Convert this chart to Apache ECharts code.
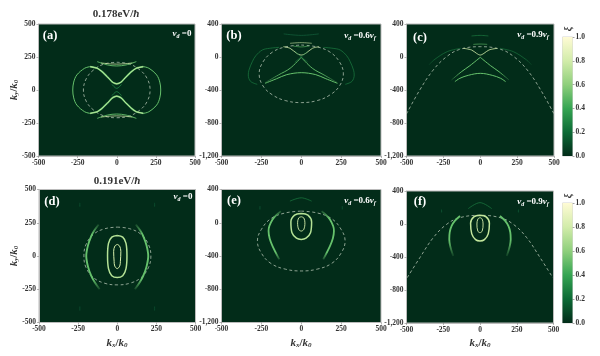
<!DOCTYPE html>
<html>
<head>
<meta charset="utf-8">
<style>
  html, body { margin: 0; padding: 0; background: #fff; }
  #chart { width: 600px; height: 356px; filter: blur(0.55px); }
</style>
<script src="https://cdn.jsdelivr.net/npm/echarts@6/dist/echarts.min.js"></script>
</head>
<body>
<div id="chart"></div>
<script>
const xTicks = [-500, 250];
const shortYRange = [-500, 500, 250];
const tallYRange = [-1200, 400, 400];
const scaleTop = [1];

// (a) 0.178 eV, v_d = 0
const aCircle = [[0,210],[80,197],[150,150],[195,85],[213,0],[195,-85],[150,-150],[80,-197],[0,-210],[-80,-197],[-150,-150],[-195,-85],[-213,0],[-195,85],[-150,150],[-80,197],[0,210]];
const aOuterR = [[170,177],[205,165],[255,114],[275,60],[281,0],[275,-60],[255,-114],[205,-165],[170,-177]];
const aOuterL = [[-170,177],[-205,165],[-255,114],[-275,60],[-281,0],[-275,-60],[-255,-114],[-205,-165],[-170,-177]];
const aTieTop = [[-170,177],[-125,165],[-95,140],[-60,100],[-30,62],[-12,50],[0,47],[12,50],[30,62],[60,100],[95,140],[125,165],[170,177]];
const aTieBot = [[-170,-177],[-125,-165],[-95,-140],[-60,-100],[-30,-62],[-12,-50],[0,-47],[12,-50],[30,-62],[60,-100],[95,-140],[125,-165],[170,-177]];
const aNeckTop = [[-30,42],[0,12],[30,42]];
const aNeckBot = [[-30,-42],[0,-12],[30,-42]];
const aArcTop1 = [[-125,215],[-60,190],[0,182],[60,190],[125,215]];
const aArcTop2 = [[-100,205],[-40,198],[0,196],[40,198],[100,205]];
const aArcBot1 = [[-125,-215],[-60,-190],[0,-182],[60,-190],[125,-215]];
const aArcBot2 = [[-100,-205],[-40,-198],[0,-196],[40,-198],[100,-205]];

// (b) 0.178 eV, v_d = 0.6 v_f
const bEllipse = [[0,145],[100,122],[180,60],[240,-60],[264,-204],[240,-350],[180,-460],[100,-528],[0,-553],[-100,-528],[-180,-460],[-240,-350],[-264,-204],[-240,-60],[-180,60],[-100,122],[0,145]];
const bOuterR = [[139,117],[200,105],[244,85],[285,15],[307,-57],[328,-160],[332,-218],[318,-295],[276,-331]];
const bOuterL = [[-139,117],[-200,105],[-244,85],[-285,15],[-307,-57],[-328,-160],[-332,-218],[-318,-295],[-276,-331]];
const bTie = [[-112,125],[-70,105],[-28,44],[0,24],[28,44],[70,105],[112,125]];
const bVeeL = [[0,-4],[-70,-137],[-143,-218],[-227,-311]];
const bVeeR = [[0,-4],[70,-137],[143,-218],[227,-311]];
const bCrossL = [[-40,70],[0,0],[40,-60]];
const bCrossR = [[40,70],[0,0],[-40,-60]];
const bArc = [[-227,-319],[-154,-263],[-91,-214],[0,-190],[91,-214],[154,-263],[227,-319]];
const bFlat1 = [[-70,166],[0,174],[66,166]];
const bFlat2 = [[-50,133],[0,122],[50,133]];
const bFaint = [[-110,280],[0,262],[110,280]];

// (c) 0.178 eV, v_d = 0.9 v_f
const cParabola = [[-500,-690],[-410,-400],[-319,-158],[-228,4],[-138,93],[0,125],[138,93],[228,4],[319,-158],[410,-400],[500,-690]];
const cOuterR = [[133,105],[224,65],[314,-36],[348,-97]];
const cOuterL = [[-133,105],[-224,65],[-314,-36],[-348,-97]];
const cTie = [[-115,105],[-59,85],[-25,44],[0,24],[25,44],[59,85],[115,105]];
const cVeeL = [[0,-4],[-70,-105],[-127,-178],[-195,-279]];
const cVeeR = [[0,-4],[70,-105],[127,-178],[195,-279]];
const cArc = [[-172,-299],[-138,-258],[-81,-222],[0,-198],[81,-222],[138,-258],[172,-299]];
const cFlat = [[-47,153],[0,157],[47,153]];
const cFaint = [[-59,255],[0,262],[55,255]];

// (d) 0.191 eV, v_d = 0
const dCircle = [[0,217],[80,205],[153,162],[200,85],[215,0],[200,-85],[153,-162],[80,-205],[0,-217],[-80,-205],[-153,-162],[-200,-85],[-213,0],[-200,85],[-153,162],[-80,205],[0,217]];
const dInner = [[0,87],[15,75],[23,35],[20,-40],[16,-75],[0,-95],[-16,-75],[-20,-40],[-23,35],[-15,75],[0,87]];
const dMiddle = [[0,155],[35,142],[56,95],[62,0],[56,-95],[35,-148],[0,-162],[-35,-148],[-56,-95],[-62,0],[-56,95],[-35,142],[0,155]];
const dOuterR = [[119,237],[148,190],[166,150],[187,80],[198,0],[187,-80],[166,-150],[143,-200],[113,-250]];
const dOuterL = [[-119,237],[-148,190],[-166,150],[-187,80],[-198,0],[-187,-80],[-166,-150],[-143,-200],[-113,-250]];
const dMarkUL = [[-239,370],[-239,400]];
const dMarkUR = [[239,370],[239,400]];
const dMarkDL = [[-239,-380],[-239,-410]];
const dMarkDR = [[239,-380],[239,-410]];

// (e) 0.191 eV, v_d = 0.6 v_f
const eEllipse = [[0,140],[100,118],[190,50],[250,-80],[275,-220],[250,-365],[190,-490],[100,-558],[0,-580],[-100,-558],[-190,-490],[-250,-365],[-275,-220],[-250,-80],[-190,50],[-100,118],[0,140]];
const eInner = [[0,72],[16,58],[23,0],[16,-80],[0,-100],[-16,-80],[-23,0],[-16,58],[0,72]];
const eMiddle = [[0,112],[42,92],[65,10],[58,-120],[30,-185],[0,-200],[-30,-185],[-58,-120],[-65,10],[-42,92],[0,112]];
const eOuterR = [[128,140],[158,90],[180,40],[200,-40],[205,-100],[198,-190],[180,-280],[138,-440]];
const eOuterL = [[-128,140],[-158,90],[-180,40],[-200,-40],[-205,-100],[-198,-190],[-180,-280],[-138,-440]];
const eTop = [[-71,260],[0,300],[65,260]];
const eMarkL = [[-259,160],[-259,200]];
const eMarkR = [[257,160],[257,200]];

// (f) 0.191 eV, v_d = 0.9 v_f
const fParabola = [[-495,-650],[-409,-408],[-318,-166],[-227,-4],[-136,77],[0,105],[136,77],[227,-4],[318,-166],[409,-408],[495,-650]];
const fInner = [[0,77],[14,62],[21,0],[15,-85],[0,-105],[-15,-85],[-21,0],[-14,62],[0,77]];
const fMiddle = [[0,105],[42,86],[64,10],[56,-120],[30,-190],[0,-206],[-30,-190],[-56,-120],[-64,10],[-42,86],[0,105]];
const fOuterR = [[136,97],[170,40],[193,-24],[206,-100],[209,-186],[182,-388]];
const fOuterL = [[-136,97],[-170,40],[-193,-24],[-206,-100],[-209,-186],[-182,-388]];
const fTop = [[-80,186],[0,259],[80,186]];
const fMarkL = [[-261,140],[-261,176]];
const fMarkR = [[261,140],[261,176]];

const BG = "#022c19";
const BRIGHT = "#d8f0ac";
const MID = "#66c26c";
const DIM = "#1d7d42";
const FAINT = "#115a38";
const SERIF = "Liberation Serif";

const panels = [
  { left: 38.5, right: 195, top: 24, bottom: 156, y: shortYRange },
  { left: 221.5, right: 381, top: 24, bottom: 156, y: tallYRange },
  { left: 406.5, right: 554, top: 24, bottom: 156, y: tallYRange },
  { left: 39, right: 195.5, top: 189.5, bottom: 322.5, y: shortYRange },
  { left: 221.5, right: 381, top: 189.5, bottom: 322.5, y: tallYRange },
  { left: 406.5, right: 553.5, top: 191, bottom: 323, y: tallYRange }
];
const scales = [
  { left: 562.5, right: 572.5, top: 37, bottom: 156 },
  { left: 562.5, right: 572.5, top: 203, bottom: 323 }
];

// fade: "down" goes dark at the lower end, "both" at both ends of an arc
function fadeColor(color, fade) {
  if (!fade) return color;
  const stops = fade === "down"
    ? [{ offset: 0, color }, { offset: 0.6, color }, { offset: 1, color: BG }]
    : [{ offset: 0, color: BG }, { offset: 0.18, color }, { offset: 0.82, color }, { offset: 1, color: BG }];
  return new echarts.graphic.LinearGradient(0, 0, 0, 1, stops);
}

const series = [];
function curve(panel, data, color, width, fade, smooth) {
  series.push({
    type: "line", xAxisIndex: panel, yAxisIndex: panel, data, smooth: smooth || 0.35,
    showSymbol: false, silent: true, z: 3,
    lineStyle: { color: fadeColor(color, fade), width }
  });
}
function dashed(panel, data) {
  series.push({
    type: "line", xAxisIndex: panel, yAxisIndex: panel, data, smooth: 0.4,
    showSymbol: false, silent: true, z: 2,
    lineStyle: { color: "#cfdccb", width: 0.8, type: [3, 2.5], opacity: 0.85 }
  });
}

dashed(0, aCircle);
[aOuterR, aOuterL].forEach(c => curve(0, c, MID, 1));
[aTieTop, aTieBot].forEach(c => curve(0, c, MID, 1.7, null, 0.15));
[aTieTop, aTieBot].forEach(c => curve(0, c, BRIGHT, 0.8, null, 0.15));
[aNeckTop, aNeckBot].forEach(c => curve(0, c, DIM, 0.9));
[aArcTop1, aArcBot1].forEach(c => curve(0, c, MID, 0.9));
[aArcTop2, aArcBot2].forEach(c => curve(0, c, BRIGHT, 0.7));

dashed(1, bEllipse);
[bOuterR, bOuterL].forEach(c => curve(1, c, DIM, 0.7));
curve(1, bTie, BRIGHT, 0.8);
[bVeeL, bVeeR].forEach(c => curve(1, c, MID, 0.9, "down"));
[bCrossL, bCrossR].forEach(c => curve(1, c, DIM, 0.6));
curve(1, bArc, MID, 1);
curve(1, bFlat1, BRIGHT, 0.6);
curve(1, bFlat2, MID, 0.6);
curve(1, bFaint, FAINT, 0.8);

dashed(2, cParabola);
[cOuterR, cOuterL].forEach(c => curve(2, c, DIM, 0.6, "down"));
curve(2, cTie, BRIGHT, 0.8);
[cVeeL, cVeeR].forEach(c => curve(2, c, MID, 1, "down"));
curve(2, cArc, MID, 1);
curve(2, cFlat, MID, 0.6);
curve(2, cFaint, DIM, 0.7);

dashed(3, dCircle);
curve(3, dInner, BRIGHT, 1);
curve(3, dMiddle, "#b5e296", 1.5);
[dOuterR, dOuterL].forEach(c => curve(3, c, MID, 1.9, "both"));
[dMarkUL, dMarkUR, dMarkDL, dMarkDR].forEach(c => curve(3, c, FAINT, 0.7));

dashed(4, eEllipse);
curve(4, eInner, BRIGHT, 0.9);
curve(4, eMiddle, "#b5e296", 1.5);
[eOuterR, eOuterL].forEach(c => curve(4, c, MID, 1.8, "both"));
curve(4, eTop, DIM, 0.7);
[eMarkL, eMarkR].forEach(c => curve(4, c, FAINT, 0.8));

dashed(5, fParabola);
curve(5, fInner, BRIGHT, 0.9);
curve(5, fMiddle, "#c3e79c", 1.5);
[fOuterR, fOuterL].forEach(c => curve(5, c, MID, 1.8, "down"));
curve(5, fTop, DIM, 0.7);
[fMarkL, fMarkR].forEach(c => curve(5, c, FAINT, 0.8));

const tickFont = { fontFamily: SERIF, fontSize: 7.5, fontWeight: "bold", color: "#333", margin: 3 };
const frame = { show: true, onZero: false, lineStyle: { color: "#bbb", width: 1 } };
const tick = { show: true, length: 2, lineStyle: { color: "#888", width: 0.6 } };

const grids = [], xAxes = [], yAxes = [];
panels.forEach((p, i) => {
  grids.push({ left: p.left, width: p.right - p.left, top: p.top, height: p.bottom - p.top, show: true, backgroundColor: BG, borderColor: "#bbb", borderWidth: 1 });
  xAxes.push({ type: "value", gridIndex: i, min: xTicks[0], max: -xTicks[0], interval: xTicks[1], axisLine: frame, axisTick: tick, axisLabel: tickFont, splitLine: { show: false } });
  yAxes.push({ type: "value", gridIndex: i, min: p.y[0], max: p.y[1], interval: p.y[2], axisLine: frame, axisTick: tick, axisLabel: tickFont, splitLine: { show: false } });
});

// colour bars, one small grid each
scales.forEach((s, i) => {
  const g = grids.length;
  grids.push({ left: s.left, width: s.right - s.left, top: s.top, height: s.bottom - s.top, show: true, borderColor: "#bbb", borderWidth: 0.6 });
  xAxes.push({ type: "category", gridIndex: g, data: ["xi"], axisLine: { show: false }, axisTick: { show: false }, axisLabel: { show: false } });
  yAxes.push({
    type: "value", gridIndex: g, min: 0, max: 1, interval: 0.2, position: "right",
    axisLine: { show: false }, axisTick: { show: true, length: 2, lineStyle: { color: "#666", width: 0.6 } },
    axisLabel: { ...tickFont, formatter: v => v.toFixed(1) }, splitLine: { show: false }
  });
  series.push({
    type: "bar", xAxisIndex: g, yAxisIndex: g, data: scaleTop, barWidth: "100%", silent: true,
    itemStyle: {
      color: new echarts.graphic.LinearGradient(0, 1, 0, 0, [
        { offset: 0, color: BG },
        { offset: 0.2, color: "#0c6a35" },
        { offset: 0.4, color: "#35a552" },
        { offset: 0.6, color: "#8fcf7c" },
        { offset: 0.8, color: "#d2ecaa" },
        { offset: 1, color: "#fffbd5" }
      ])
    }
  });
});

const rich = {
  i: { fontFamily: SERIF, fontStyle: "italic", fontWeight: "bold", fontSize: 11, fill: "#333" },
  s: { fontFamily: SERIF, fontStyle: "italic", fontWeight: "bold", fontSize: 7, fill: "#333", verticalAlign: "bottom", padding: [5, 0, 0, 0] },
  n: { fontFamily: SERIF, fontWeight: "bold", fontSize: 11, fill: "#333" },
  wi: { fontFamily: SERIF, fontStyle: "italic", fontWeight: "bold", fontSize: 9, fill: "#fff" },
  ws: { fontFamily: SERIF, fontStyle: "italic", fontWeight: "bold", fontSize: 6, fill: "#fff", verticalAlign: "bottom", padding: [4, 0, 0, 0] },
  wn: { fontFamily: SERIF, fontWeight: "bold", fontSize: 9, fill: "#fff" }
};

function label(text, x, y, extra) {
  return { type: "text", x, y, silent: true, rotation: 0, style: { text, rich, fontFamily: SERIF, fontWeight: "bold", fontSize: 11, fill: "#333", align: "center", verticalAlign: "middle", ...extra } };
}
const kx = "{i|k}{s|x}{n|/}{i|k}{s|0}";
const ky = "{i|k}{s|y}{n|/}{i|k}{s|0}";
const elements = [
  label("0.178eV/{i|ħ}", 116, 14),
  label("0.191eV/{i|ħ}", 117, 181),
  label(kx, 117, 343), label(kx, 301, 343), label(kx, 480, 343),
  { ...label(ky, 14, 90), rotation: Math.PI / 2 },
  { ...label(ky, 14, 256), rotation: Math.PI / 2 },
  { ...label("ξ", 568, 29, { fontStyle: "italic", fontSize: 10 }), rotation: Math.PI / 2 },
  { ...label("ξ", 568, 196, { fontStyle: "italic", fontSize: 10 }), rotation: Math.PI / 2 }
];
[["(a)", 50, 36], ["(b)", 234, 36], ["(c)", 420, 38], ["(d)", 52, 202], ["(e)", 234, 201], ["(f)", 420, 202]].forEach(t => {
  elements.push(label(t[0], t[1], t[2], { fill: "#fff", fontSize: 12.5 }));
});
[
  ["{wi|v}{ws|d}{wn| =0}", 182, 34],
  ["{wi|v}{ws|d}{wn| =0.6}{wi|v}{ws|f}", 360, 36],
  ["{wi|v}{ws|d}{wn| =0.9}{wi|v}{ws|f}", 533, 35],
  ["{wi|v}{ws|d}{wn| =0}", 183, 197],
  ["{wi|v}{ws|d}{wn| =0.6}{wi|v}{ws|f}", 360, 201],
  ["{wi|v}{ws|d}{wn| =0.9}{wi|v}{ws|f}", 533, 202]
].forEach(t => elements.push(label(t[0], t[1], t[2])));

const chart = echarts.init(document.getElementById("chart"), null, { renderer: "canvas" });
chart.setOption({
  animation: false,
  backgroundColor: "#fff",
  grid: grids,
  xAxis: xAxes,
  yAxis: yAxes,
  series,
  graphic: { elements }
});
</script>
</body>
</html>
